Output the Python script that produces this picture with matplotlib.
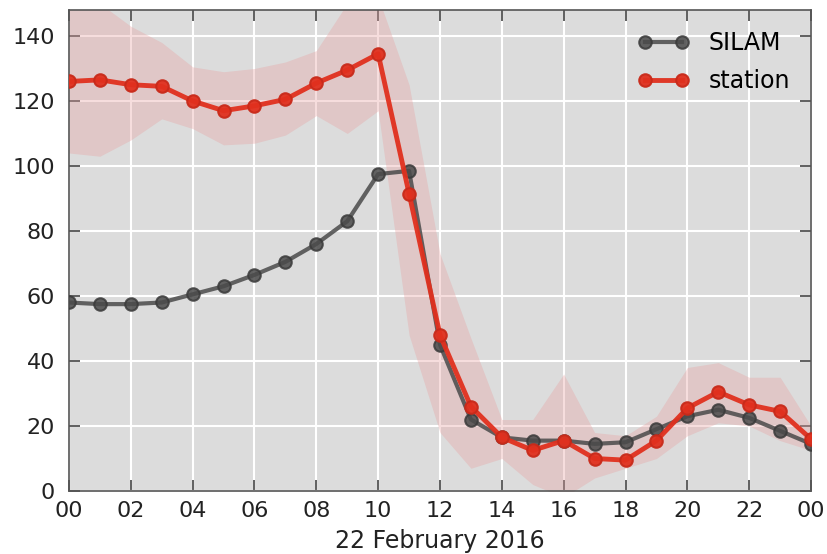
import matplotlib
matplotlib.use('Agg')
import matplotlib.pyplot as plt
import matplotlib.dates as mdates
import numpy as np
import pandas as pd

plt.rcParams['font.family'] = ['DejaVu Sans']

# hourly values, 22 Feb 2016 00:00 .. 23 Feb 2016 00:00
hours = pd.date_range('2016-02-22 00:00', '2016-02-23 00:00', freq='h')

silam = [58, 57.5, 57.5, 58, 60.5, 63, 66.5, 70.5, 76, 83, 97.5, 98.5,
         45, 22, 16.5, 15.5, 15.5, 14.5, 15, 19, 23, 25, 22.5, 18.5, 14.5]
station = [126, 126.5, 125, 124.5, 120, 117, 118.5, 120.5, 125.5, 129.5, 134.5, 91.5,
           48, 26, 16.5, 12.5, 15.5, 10, 9.5, 15.5, 25.5, 30.5, 26.5, 24.5, 16]
# spread of station values (shaded band)
station_low = [104, 103, 108, 114.5, 111.5, 106.5, 107, 109.5, 115.5, 110, 117, 48,
               18, 7, 10, 2, -2, 4, 7, 10, 17, 21, 20, 15.5, 12.5]
station_high = [153, 150, 143, 138, 130.5, 129, 130, 132, 135.5, 150, 152, 125,
                73, 47, 22, 22, 36, 18, 17, 23, 38, 39.5, 35, 35, 20]

fig = plt.figure(figsize=(8.28, 5.54), dpi=100)
ax = fig.add_axes([0.0833, 0.1137, 0.8962, 0.8683])
ax.set_facecolor('#dcdcdc')

nd = hours.to_numpy()
ax.fill_between(nd, station_low, station_high, color='#e8a0a0', alpha=0.35,
                linewidth=0, zorder=1)
ax.plot(nd, silam, color='#4a4a4a', linewidth=3, marker='o', markersize=9,
        markeredgecolor='#3a3a3a', markeredgewidth=1.5, alpha=0.85,
        label='SILAM', zorder=3)
ax.plot(nd, station, color='#e0301e', linewidth=3.5, marker='o', markersize=9,
        markeredgecolor='#c82a1a', markeredgewidth=1.5, alpha=0.95,
        label='station', zorder=4)

ax.set_xlim(nd[0], nd[-1])
ax.set_ylim(0, 148)
ax.set_yticks([0, 20, 40, 60, 80, 100, 120, 140])
ax.xaxis.set_major_locator(mdates.HourLocator(interval=2))
ax.xaxis.set_major_formatter(mdates.DateFormatter('%H'))
ax.set_xlabel('22 February 2016', fontsize=17, color='#222222', labelpad=6)

ax.grid(True, color='white', linewidth=1.5, linestyle='-')
ax.set_axisbelow(True)
ax.tick_params(direction='in', top=True, right=True, length=8, width=1.2,
               labelsize=16, colors='#444444', labelcolor='#222222')
ax.tick_params(axis='x', pad=7)
ax.tick_params(axis='y', pad=10)
for s in ax.spines.values():
    s.set_color('#555555')
    s.set_linewidth(1.2)

ax.legend(loc='upper right', frameon=False, fontsize=17, numpoints=2,
          handlelength=2.2, labelspacing=0.6, borderaxespad=0.5)

plt.savefig('out.png', dpi=100)
plt.close()
